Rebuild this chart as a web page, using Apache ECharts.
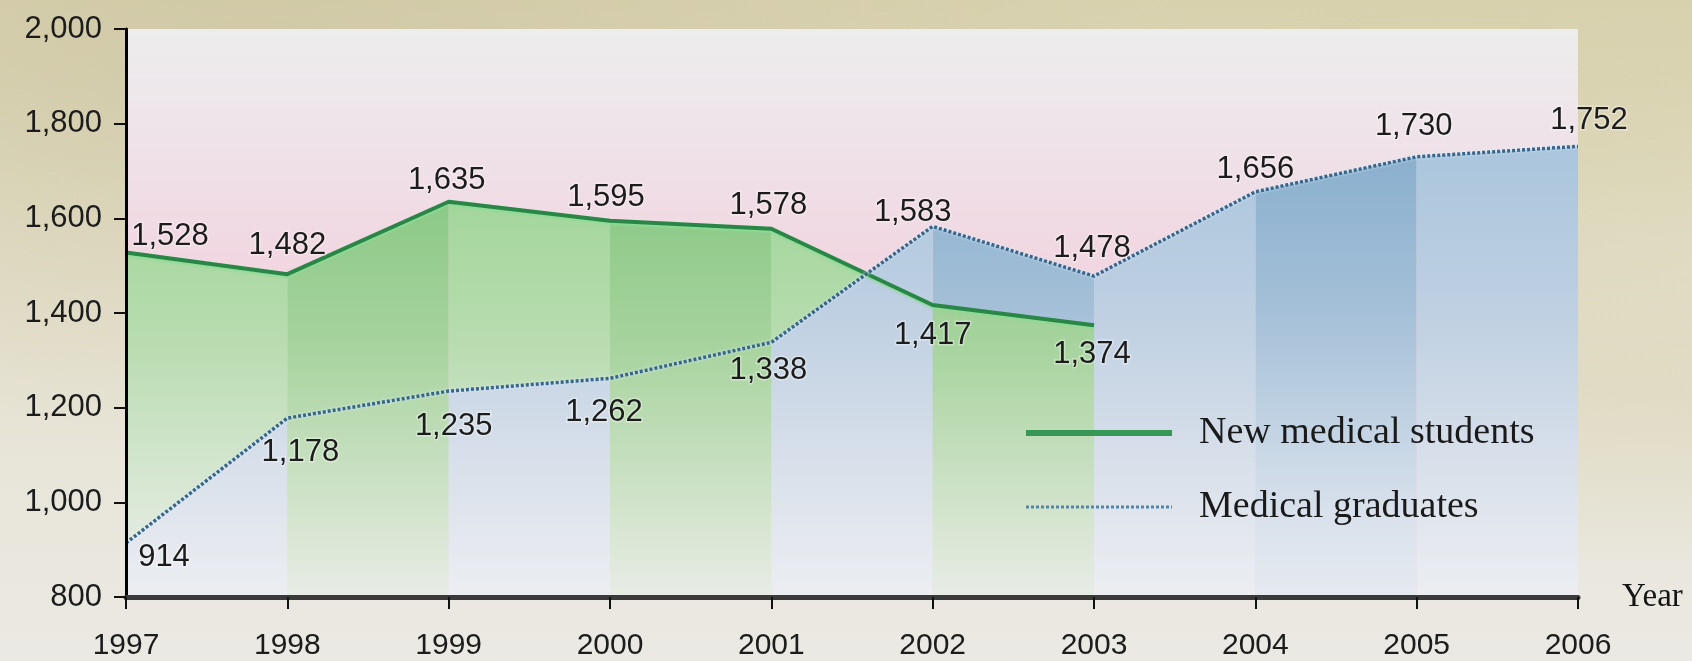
<!DOCTYPE html>
<html>
<head>
<meta charset="utf-8">
<script src="https://cdn.jsdelivr.net/npm/echarts@6/dist/echarts.min.js"></script>
<style>
  html, body { margin: 0; padding: 0; }
  body {
    width: 1692px; height: 661px; overflow: hidden;
    background:
      radial-gradient(ellipse at 15% 8%, rgba(200,192,155,0.55), rgba(200,192,155,0) 45%),
      radial-gradient(ellipse at 85% 15%, rgba(212,205,165,0.5), rgba(212,205,165,0) 40%),
      radial-gradient(ellipse at 97% 60%, rgba(220,214,185,0.6), rgba(220,214,185,0) 30%),
      linear-gradient(to bottom, #dad3b2 0%, #e2ddc6 30%, #e8e5d9 70%, #ebe9e3 100%);
  }
  #chart { width: 1692px; height: 661px; }
</style>
</head>
<body>
<div id="chart"></div>
<script>
// ---- data ----
const years = ['1997','1998','1999','2000','2001','2002','2003','2004','2005','2006'];
const newStudents = [1528, 1482, 1635, 1595, 1578, 1417, 1374, null, null, null];
const graduates   = [914, 1178, 1235, 1262, 1338, 1583, 1478, 1656, 1730, 1752];
const yMin = 800, yMax = 2000, yStep = 200;
const seriesNames = ['New medical students', 'Medical graduates'];

// ---- label placement (style) ----
const studentLabelOffsets = [[44,-16],[0,-29],[-2,-21],[-4,-23],[-3,-23],[0,30],[-2,29]];
const gradLabelOffsets = [[38,14],[13,34],[5,35],[-6,34],[-3,28],[-20,-14],[-2,-28],[0,-22],[-3,-30],[11,-26]];

const PLOT_TOP = 29, PLOT_BOTTOM = 597;
function grad(stops) {
  return { type: 'linear', x: 0, y: PLOT_TOP, x2: 0, y2: PLOT_BOTTOM, global: true,
    colorStops: stops.map(s => ({ offset: s[0], color: s[1] })) };
}
const greenLight = grad([[0,'#a0d598'],[0.3,'#a3d69b'],[0.55,'#b8dcb0'],[0.85,'#dde9d9'],[1,'#eceeea']]);
const greenDark  = grad([[0,'#88c883'],[0.3,'#8bc986'],[0.55,'#a6d39d'],[0.85,'#d3e4cd'],[1,'#e8ece6']]);
const blueLight  = grad([[0,'#a6c3da'],[0.2,'#a9c5dc'],[0.5,'#bfd0e2'],[0.85,'#e0e5ed'],[1,'#eceef2']]);
const blueDark   = grad([[0,'#85abca'],[0.2,'#88aecd'],[0.5,'#a5c0d8'],[0.85,'#d8e1ec'],[1,'#e6eaf0']]);

function bandData(arr, i) {
  return arr.map((v, k) => (k === i || k === i + 1) ? v : null);
}

const series = [];
for (let i = 0; i < years.length - 1; i++) {
  const dark = i % 2 === 1;
  series.push({
    type: 'line', name: 'gband' + i, silent: true, symbol: 'none',
    data: bandData(graduates, i),
    lineStyle: { width: 0 },
    areaStyle: { color: dark ? blueDark : blueLight, opacity: 1, origin: 'start' },
    z: dark ? 2 : 3
  });
  if (newStudents[i] != null && newStudents[i + 1] != null) {
    series.push({
      type: 'line', name: 'sband' + i, silent: true, symbol: 'none',
      data: bandData(newStudents, i),
      lineStyle: { width: 0 },
      areaStyle: { color: dark ? greenDark : greenLight, opacity: 1, origin: 'start' },
      z: dark ? 3 : 2
    });
  }
}

const labelBase = {
  show: true, position: 'inside', fontFamily: 'Liberation Sans, Arial, sans-serif',
  fontSize: 31, color: '#1c1c1c',
  textBorderColor: 'rgba(255,255,255,0.35)', textBorderWidth: 3,
  formatter: p => Number(p.value).toLocaleString('en-US')
};

series.push({
  type: 'line', name: seriesNames[0], z: 6,
  data: newStudents.map((v, k) => v == null ? null : ({ value: v, label: { offset: studentLabelOffsets[k] } })),
  symbol: 'circle', symbolSize: 1, showSymbol: true,
  itemStyle: { color: 'rgba(0,0,0,0)' },
  lineStyle: { color: '#2a8647', width: 4, shadowColor: 'rgba(140,220,150,0.9)', shadowBlur: 2, shadowOffsetY: 2 },
  label: labelBase
});
series.push({
  type: 'line', name: seriesNames[1], z: 6,
  data: graduates.map((v, k) => ({ value: v, label: { offset: gradLabelOffsets[k] } })),
  symbol: 'circle', symbolSize: 1, showSymbol: true,
  itemStyle: { color: 'rgba(0,0,0,0)' },
  lineStyle: { color: '#38668a', width: 3.5, type: [3, 2], shadowColor: 'rgba(220,240,255,1)', shadowBlur: 3 },
  label: labelBase
});

const chart = echarts.init(document.getElementById('chart'), null, { renderer: 'canvas' });
chart.setOption({
  backgroundColor: 'transparent',
  animation: false,
  grid: {
    left: 126, right: 114, top: PLOT_TOP, bottom: 661 - PLOT_BOTTOM,
    show: true, borderWidth: 0,
    backgroundColor: { type: 'linear', x: 0, y: 0, x2: 0, y2: 1, colorStops: [
      { offset: 0, color: '#ededed' }, { offset: 0.15, color: '#eee5ea' },
      { offset: 0.4, color: '#f1d7e1' }, { offset: 1, color: '#f3cfdb' }] }
  },
  legend: {
    data: [
      { name: seriesNames[0], lineStyle: { color: '#379757', width: 6, type: 'solid' } },
      { name: seriesNames[1], lineStyle: { color: '#5586aa', width: 3, type: [3, 2] } }
    ],
    orient: 'vertical', left: 1018, top: 403,
    itemWidth: 146, itemHeight: 20, itemGap: 24,
    selectedMode: false,
    textStyle: { fontFamily: 'Liberation Serif, Times New Roman, serif', fontSize: 38, color: '#1a1a1a',
      lineHeight: 40, padding: [10, 0, 0, 22] }
  },
  xAxis: {
    type: 'category', data: years, boundaryGap: false, z: 20,
    name: 'Year', nameLocation: 'end', nameGap: 44,
    nameTextStyle: { fontFamily: 'Liberation Serif, Times New Roman, serif', fontSize: 33, color: '#151515',
      verticalAlign: 'middle', padding: [0, 0, 6, 0] },
    axisLine: { show: true, lineStyle: { color: '#3a3a3a', width: 5 } },
    axisTick: { show: true, length: 12, lineStyle: { color: '#111', width: 2 } },
    axisLabel: { fontFamily: 'Liberation Sans, Arial, sans-serif', fontSize: 30, color: '#1c1c1c', margin: 34 },
    splitLine: { show: false }
  },
  yAxis: {
    type: 'value', min: yMin, max: yMax, interval: yStep, z: 20,
    axisLine: { show: true, lineStyle: { color: '#000', width: 3 } },
    axisTick: { show: true, length: 12, lineStyle: { color: '#111', width: 2 } },
    axisLabel: { fontFamily: 'Liberation Sans, Arial, sans-serif', fontSize: 31, color: '#1c1c1c', margin: 24,
      formatter: v => v.toLocaleString('en-US') },
    splitLine: { show: false }
  },
  series: series
});
</script>
</body>
</html>
